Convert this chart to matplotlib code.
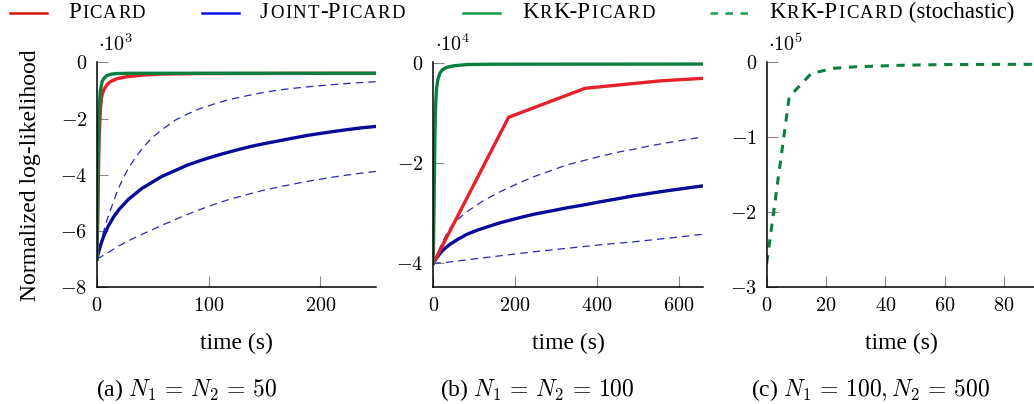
import matplotlib
matplotlib.use("Agg")
from matplotlib import pyplot as plt
from matplotlib.lines import Line2D
from matplotlib.offsetbox import TextArea, HPacker, AnchoredOffsetbox

# Normalized log-likelihood vs. time, three settings

plt.rcParams['font.family'] = ['Liberation Serif', 'DejaVu Serif']
plt.rcParams['mathtext.fontset'] = 'cm'

# ---------------- data ----------------
# (a) N1 = N2 = 50, values in 1e3
t_a_green = [0, 0.5, 1, 1.5, 2, 3, 4.5, 6, 9, 13, 18, 30, 60, 250]
v_a_green = [-7, -5, -3.4, -2.3, -1.6, -1.0, -0.7, -0.58, -0.47, -0.42, -0.4, -0.39, -0.39, -0.39]

t_a_red = [0, 0.5, 1, 1.5, 2, 3, 4, 6, 9, 12, 18, 27, 42, 57, 90, 250]
v_a_red = [-7, -6, -4.8, -3.5, -2.6, -1.7, -1.25, -0.98, -0.8, -0.69, -0.58, -0.51, -0.45, -0.42, -0.4, -0.39]

t_a_blue = [0, 1, 3, 6, 10, 15, 20, 28, 40, 50, 58, 70, 80, 90, 100, 112, 125,
            137, 150, 162, 175, 187, 200, 212, 225, 237, 250]
v_a_blue = [-7, -6.82, -6.53, -6.18, -5.83, -5.49, -5.22, -4.88, -4.49, -4.25, -4.06,
            -3.85, -3.67, -3.53, -3.4, -3.26, -3.12, -3.0, -2.89, -2.8, -2.7, -2.61,
            -2.53, -2.46, -2.39, -2.33, -2.28]

t_a_hi = [0, 2, 5, 9, 13, 18, 23, 28, 35, 43, 50, 58, 70, 80, 90, 105, 118, 133,
          147, 162, 177, 192, 207, 222, 237, 250]
v_a_hi = [-7, -6.65, -6.15, -5.6, -5.15, -4.6, -4.15, -3.78, -3.35, -2.95, -2.66,
          -2.4, -2.06, -1.86, -1.68, -1.48, -1.33, -1.2, -1.09, -0.99, -0.92, -0.86,
          -0.81, -0.76, -0.72, -0.69]

t_a_lo = [0, 5, 13, 20, 28, 40, 58, 73, 88, 103, 118, 133, 147, 162, 177, 192, 207, 222, 237, 250]
v_a_lo = [-7, -6.88, -6.69, -6.52, -6.35, -6.12, -5.8, -5.54, -5.3, -5.08, -4.88,
          -4.72, -4.57, -4.44, -4.32, -4.21, -4.11, -4.02, -3.94, -3.88]

# (b) N1 = N2 = 100, values in 1e4
t_b_green = [0, 1, 2, 3, 4, 5, 6.5, 8, 11, 16, 22, 33, 50, 82, 150, 660]
v_b_green = [-4, -3.3, -2.65, -2.0, -1.4, -1.0, -0.7, -0.5, -0.33, -0.2, -0.13,
             -0.08, -0.05, -0.025, -0.018, -0.015]

t_b_red = [0, 184, 371, 557, 660]
v_b_red = [-4, -1.08, -0.5, -0.35, -0.3]

t_b_blue = [0, 5, 10, 20, 30, 41, 60, 82, 110, 140, 163, 205, 245, 290, 327, 370,
            408, 450, 490, 530, 571, 615, 660]
v_b_blue = [-4, -3.93, -3.87, -3.77, -3.69, -3.62, -3.52, -3.42, -3.33, -3.25, -3.19,
            -3.1, -3.02, -2.95, -2.89, -2.83, -2.77, -2.71, -2.65, -2.6, -2.55, -2.5, -2.45]

t_b_hi = [0, 10, 20, 30, 41, 60, 82, 120, 163, 205, 245, 290, 327, 370, 408, 450,
          490, 530, 571, 615, 660]
v_b_hi = [-4, -3.8, -3.62, -3.45, -3.3, -3.12, -2.97, -2.76, -2.57, -2.41, -2.27,
          -2.14, -2.03, -1.94, -1.86, -1.78, -1.72, -1.65, -1.59, -1.53, -1.47]

t_b_lo = [0, 40, 82, 163, 245, 327, 408, 490, 571, 660]
v_b_lo = [-4, -3.975, -3.93, -3.85, -3.77, -3.7, -3.63, -3.57, -3.5, -3.42]

# (c) N1 = 100, N2 = 500, values in 1e5
t_c = [0, 7.6, 15, 22.5, 30, 37.5, 45, 52.5, 60, 67.5, 75, 82.5, 90]
v_c = [-2.68, -0.46, -0.15, -0.08, -0.06, -0.05, -0.04, -0.035, -0.03, -0.03, -0.028, -0.027, -0.027]

xticks_a = [0, 100, 200]
xticks_b = [0, 200, 400, 600]
xticks_c = [0, 20, 40, 60, 80]
yticks_a = [-8, -6, -4, -2, 0]
yticks_b = [-4, -2, 0]
yticks_c = [-3, -2, -1, 0]

captions = [r'(a) $N_1 \,=\, N_2 \,=\, 50$', r'(b) $N_1 \,=\, N_2 \,=\, 100$',
            r'(c) $N_1 \,=\, 100, N_2 \,=\, 500$']
exponents = ['3', '4', '5']

RED = '#E8202A'
BLUE = '#0A0A9A'
BLUE_D = '#2A2AB0'
GREEN = '#0A8040'

# ---------------- figure ----------------
W, H = 1034, 404
fig = plt.figure(figsize=(W / 100, H / 100), dpi=100)


def box(x0, x1, y_top, y_bot):
    # pixel box -> figure fraction
    return [x0 / W, 1 - y_bot / H, (x1 - x0) / W, (y_bot - y_top) / H]


ax_a = fig.add_axes(box(97, 376, 62.3, 287.3))
ax_b = fig.add_axes(box(433.3, 703.3, 62.3, 287.3))
ax_c = fig.add_axes(box(766.7, 1036, 62.3, 287.3))

thick = 2.4
ax_a.plot(t_a_lo, v_a_lo, color=BLUE_D, lw=0.9, dashes=(6, 4))
ax_a.plot(t_a_hi, v_a_hi, color=BLUE_D, lw=0.9, dashes=(6, 4))
ax_a.plot(t_a_blue, v_a_blue, color=BLUE, lw=thick)
ax_a.plot(t_a_red, v_a_red, color=RED, lw=thick)
ax_a.plot(t_a_green, v_a_green, color=GREEN, lw=thick)

ax_b.plot(t_b_lo, v_b_lo, color=BLUE_D, lw=0.9, dashes=(6, 4))
ax_b.plot(t_b_hi, v_b_hi, color=BLUE_D, lw=0.9, dashes=(6, 4))
ax_b.plot(t_b_blue, v_b_blue, color=BLUE, lw=thick)
ax_b.plot(t_b_red, v_b_red, color=RED, lw=thick)
ax_b.plot(t_b_green, v_b_green, color=GREEN, lw=thick)

ax_c.plot(t_c, v_c, color=GREEN, lw=2.2, dashes=(2.7, 2.5))

ax_a.set_xlim(0, 250)
ax_a.set_ylim(-8, 0)
ax_b.set_xlim(0, 660)
ax_b.set_ylim(-4.48, 0.02)
ax_c.set_xlim(0, 90.8)
ax_c.set_ylim(-3, 0)

setup = [(ax_a, xticks_a, yticks_a), (ax_b, xticks_b, yticks_b), (ax_c, xticks_c, yticks_c)]
for i, (ax, xt, yt) in enumerate(setup):
    ax.set_xticks(xt, [f'${v}$' for v in xt])
    ax.set_yticks(yt, [f'${v}$' for v in yt])
    ax.tick_params(direction='in', length=8, width=0.8, color='#888888',
                   labelsize=14.5, pad=7)
    for s in ['top', 'right']:
        ax.spines[s].set_visible(False)
    for s in ['left', 'bottom']:
        ax.spines[s].set_linewidth(1.1)
    ax.set_xlabel('time (s)', fontsize=17, labelpad=12)
    ax.text(0.005, 1.03, r'$\cdot 10^{%s}$' % exponents[i], transform=ax.transAxes,
            ha='left', va='bottom', fontsize=14.5)
    ax.patch.set_alpha(0)

ax_a.set_ylabel('Normalized log-likelihood', fontsize=17, labelpad=14)

# sub captions, centred under each sub figure
for xc, cap in zip([187, 537, 871], captions):
    fig.text(xc / W, 1 - 390 / H, cap, ha='center', va='center', fontsize=17)


# ---------------- legend (small caps by hand) ----------------
BIG, SMALL = 16.5, 13.5


def sc_label(parts, x_px):
    kids = []
    for t, small in parts:
        if small:
            # small caps: one box per letter so they can be spaced out a bit
            kids += [TextArea(c, textprops=dict(fontsize=SMALL)) for c in t]
        else:
            kids.append(TextArea(t, textprops=dict(fontsize=BIG)))
    pack = HPacker(children=kids, align='baseline', pad=0, sep=0.9)
    anch = AnchoredOffsetbox(loc='center left', child=pack, pad=0, borderpad=0,
                             frameon=False, bbox_to_anchor=(x_px / W, 1 - 12 / H),
                             bbox_transform=fig.transFigure)
    fig.add_artist(anch)


def leg_line(x0, x1, color, **kw):
    fig.add_artist(Line2D([x0 / W, x1 / W], [1 - 12.5 / H, 1 - 12.5 / H],
                          transform=fig.transFigure, color=color, **kw))


leg_line(10, 47, '#E01010', lw=1.8)
sc_label([('P', False), ('ICARD', True)], 68)
leg_line(202, 239, '#1010F0', lw=1.8)
sc_label([('J', False), ('OINT', True), ('-P', False), ('ICARD', True)], 260)
leg_line(463, 500, '#10A050', lw=1.8)
sc_label([('K', False), ('R', True), ('K-P', False), ('ICARD', True)], 522)
leg_line(710, 748, '#10A050', lw=1.8, dashes=(3, 3))
sc_label([('K', False), ('R', True), ('K-P', False), ('ICARD', True),
          (' (stochastic)', False)], 769)

plt.savefig('out.png', dpi=100)
